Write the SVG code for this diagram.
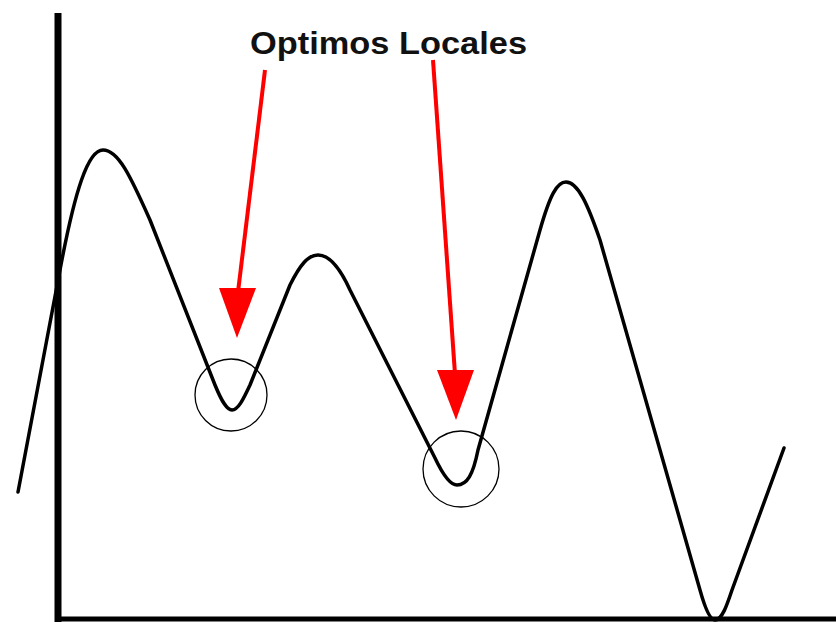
<svg xmlns="http://www.w3.org/2000/svg" width="836" height="622" viewBox="0 0 836 622">
<style>
.axis{stroke:#000;fill:none}
.curve{stroke:#000;stroke-width:3.5;fill:none;stroke-linejoin:round;stroke-linecap:round}
.ring{stroke:#000;stroke-width:1.3;fill:none}
.arrow{stroke:#f00;stroke-width:4;fill:none}
.head{fill:#f00}
.lbl{font-family:"Liberation Sans",Arial,sans-serif;font-weight:bold;font-size:32px;fill:#111}
</style>
<rect width="836" height="622" fill="#fff"/>
<g id="axes">
<line class="axis" x1="58" y1="13" x2="58" y2="622" stroke-width="7"/>
<line class="axis" x1="55" y1="619" x2="836" y2="619" stroke-width="5"/>
</g>
<g id="curve">
<path class="curve" d="M18,492 L60,270 C75,190 88,150 103,150 C118,150 130,175 150,220 L215,385 C222,402 227,410 232,410 C238,410 243,400 250,385 L290,285 C300,265 308,255 318,255 C330,255 340,268 350,290 L435,458 C443,475 450,485 457,485 C467,485 473,475 478,450 L540,230 C550,195 557,182 566,182 C578,182 588,205 600,240 L700,590 C705,608 710,620 715,620 C722,620 727,605 732,590 L784,448"/>
</g>
<g id="circle1"><circle class="ring" cx="231" cy="395" r="36"/></g>
<g id="circle2"><circle class="ring" cx="461" cy="469" r="38"/></g>
<g id="label"><text class="lbl" x="250" y="54" textLength="277" lengthAdjust="spacingAndGlyphs">Optimos Locales</text></g>
<g id="connectors">
<line class="arrow" x1="265" y1="70" x2="238" y2="292"/>
<polygon class="head" points="219,288 256,288 237,338"/>
<line class="arrow" x1="433" y1="60" x2="455" y2="374"/>
<polygon class="head" points="437,370 474,370 456,420"/>
</g>
</svg>
